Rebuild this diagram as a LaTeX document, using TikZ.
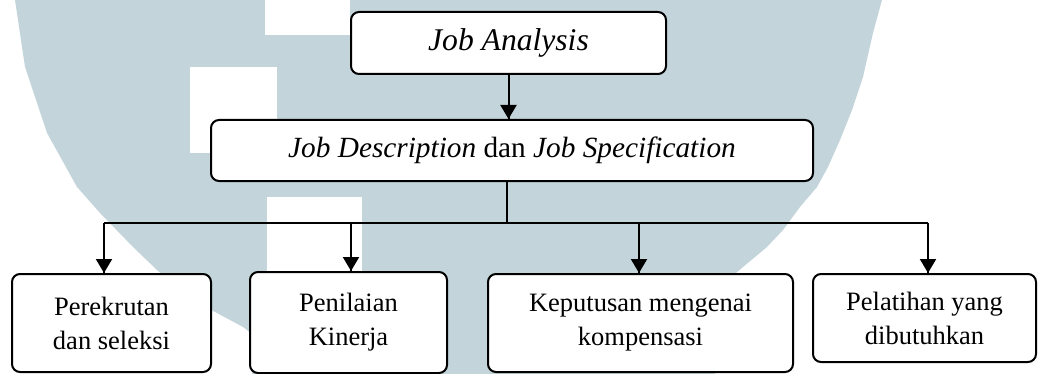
\documentclass[tikz,border=0pt]{standalone}
\usepackage{fontspec}
\setmainfont{Liberation Serif}
\usetikzlibrary{arrows.meta}
\usetikzlibrary{decorations.markings}
\tikzset{->/.style = {decoration={markings,
                                  mark=at position 1 with {\arrow{Triangle[width=8pt, length=7pt]}}},
                      postaction={decorate}}}
\tikzset{box/.style = {draw, line width = 1pt, rounded corners = 4pt, fill = white, inner sep = 0}}
\tikzset{leaf/.style = {box, align = center, font = \fontsize{13.25}{17}\selectfont}}
\definecolor{mwater}{rgb}{0.765, 0.835, 0.86}

\begin{document}
\begin{tikzpicture}[x = 0.5pt, y = -0.5pt, line width = 1pt]
    \useasboundingbox (0, 0) rectangle (1039, 374);

    % watermark behind the chart
    \fill [mwater] (15, 0) -- (25, 67) -- (47, 133) -- (77, 187) -- (100, 213) -- (133, 247)
        -- (157, 270) -- (187, 297) -- (217, 313) -- (243, 327) -- (252, 334) -- (252, 374)
        -- (715, 374) -- (728, 280) -- (743, 267) -- (767, 247) -- (783, 230) -- (800, 207)
        -- (817, 187) -- (828, 167) -- (840, 140) -- (852, 110) -- (863, 77) -- (873, 33)
        -- (882, 0) -- cycle;
    \fill [white] (265, 0) rectangle (350, 35);
    \fill [white] (190, 67) rectangle (277, 153);
    \fill [white] (267, 197) rectangle (362, 273);

    \node [box, minimum width = 157.5pt, minimum height = 31pt, font = \fontsize{15.8}{19}\selectfont]
        (ja) at (508.5, 43) {\textit{Job Analysis}};
    \node [box, minimum width = 301pt, minimum height = 30.5pt, font = \fontsize{14.65}{18}\selectfont]
        (jd) at (512, 150.5) {\textit{Job Description} dan \textit{Job Specification}};

    \node [leaf, minimum width = 99.5pt, minimum height = 49pt] (b1) at (111.5, 323) {Perekrutan\\dan seleksi};
    \node [leaf, minimum width = 98.5pt, minimum height = 50.5pt] (b2) at (348.5, 322.5) {Penilaian\\Kinerja};
    \node [leaf, minimum width = 152.5pt, minimum height = 49pt] (b3) at (640.5, 323) {Keputusan mengenai\\kompensasi};
    \node [leaf, minimum width = 111.5pt, minimum height = 44pt] (b4) at (924.5, 318) {Pelatihan yang\\dibutuhkan};

    \coordinate (bus) at (507, 223);
    \coordinate (d1) at (104, 223);
    \coordinate (d2) at (351, 223);
    \coordinate (d3) at (639, 223);
    \coordinate (d4) at (928, 223);

    \draw [->] (ja.south) -- (ja.south |- jd.north);
    \draw (bus |- jd.south) -- (bus);
    \draw (d1) -- (d4);
    \draw [->] (d1) -- (d1 |- b1.north);
    \draw [->] (d2) -- (d2 |- b2.north);
    \draw [->] (d3) -- (d3 |- b3.north);
    \draw [->] (d4) -- (d4 |- b4.north);
\end{tikzpicture}
\end{document}
